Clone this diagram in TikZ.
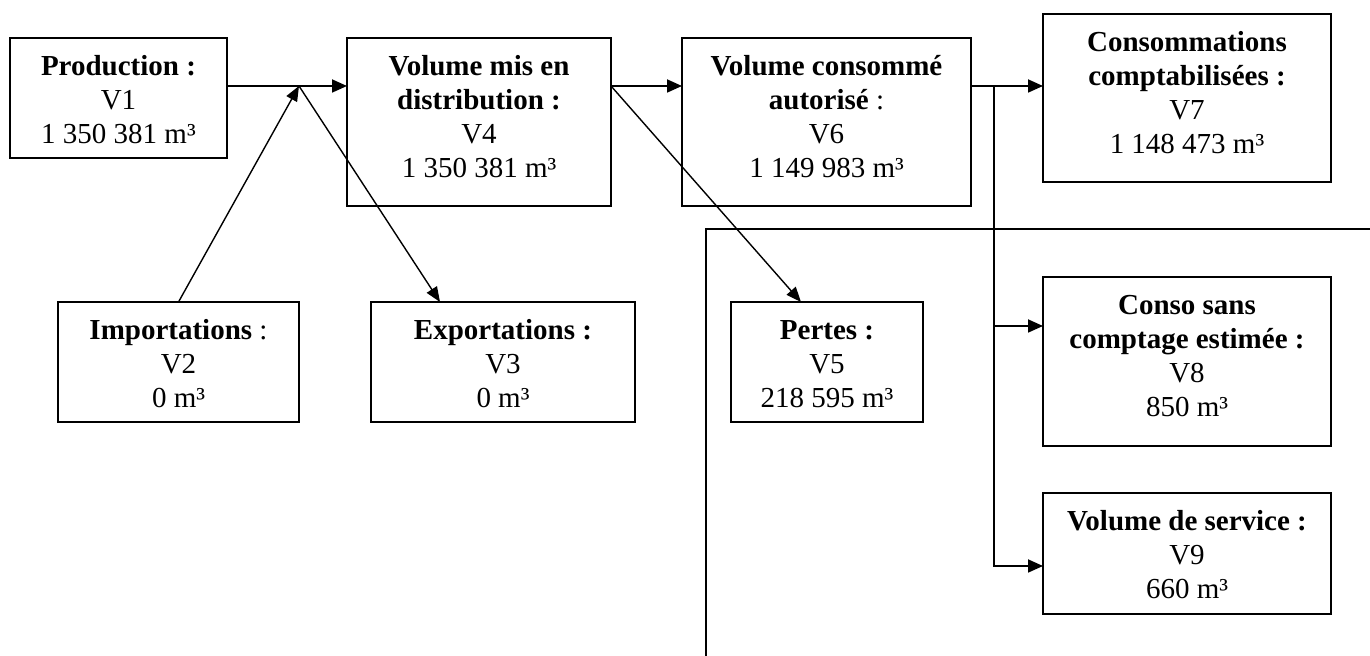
\documentclass[tikz,border=0pt]{standalone}
\usepackage{fontspec}
\setmainfont{Liberation Serif}
\usetikzlibrary{arrows.meta,calc}
\newcommand{\bt}[3]{\begin{minipage}[t][\dimexpr#2pt/2\relax][t]{\dimexpr#1pt/2\relax}\centering\fontsize{14.5}{17}\selectfont\vspace*{7.1pt}\strut#3\end{minipage}}
\tikzset{
  box/.style={draw, line width=0.9pt, inner sep=0pt, outer sep=0pt, anchor=north west},
  arr/.style={line width=0.9pt, -{Triangle[length=7.5pt,width=6.5pt]}},
  darr/.style={line width=0.7pt, -{Triangle[length=7.5pt,width=6pt]}},
  plain/.style={line width=0.9pt}
}
\begin{document}
\begin{tikzpicture}[x=0.5pt,y=-0.5pt]
\useasboundingbox (0,0) rectangle (1370,656);
\node[box] (v1) at (10,38) {\bt{217}{120}{\textbf{Production :}\\V1\\1 350 381 m³}};
\node[box] (v4) at (347,38) {\bt{264}{168}{\textbf{Volume mis en}\\\textbf{distribution :}\\V4\\1 350 381 m³}};
\node[box] (v6) at (682,38) {\bt{289}{168}{\textbf{Volume consommé}\\\textbf{autorisé} :\\V6\\1 149 983 m³}};
\node[box] (v7) at (1043,14) {\bt{288}{168}{\textbf{Consommations}\\\textbf{comptabilisées :}\\V7\\1 148 473 m³}};
\node[box] (v2) at (58,302) {\bt{241}{120}{\textbf{Importations} :\\V2\\0 m³}};
\node[box] (v3) at (371,302) {\bt{264}{120}{\textbf{Exportations :}\\V3\\0 m³}};
\node[box] (v5) at (731,302) {\bt{192}{120}{\textbf{Pertes :}\\V5\\218 595 m³}};
\node[box] (v8) at (1043,277) {\bt{288}{169}{\textbf{Conso sans}\\\textbf{comptage estimée :}\\V8\\850 m³}};
\node[box] (v9) at (1043,493) {\bt{288}{121}{\textbf{Volume de service :}\\V9\\660 m³}};
\coordinate (j) at (299,86);
\coordinate (b) at (994,86);
\coordinate (la) at (706,656);
\coordinate (lb) at (1370,229);
% main flow
\draw[arr] (v1.north east |- j) -- (v4.north west |- j);
\draw[darr] (v2.north) -- (j);
\draw[darr] (j) -- ($(v3.north west)+(69,0)$);
\draw[arr] (v4.north east |- j) -- (v6.north west |- j);
\draw[darr] (v4.north east |- j) -- ($(v5.north west)+(70,0)$);
\draw[arr] (v6.north east |- j) -- (v7.west |- j);
\draw[arr] (b) |- ($(v8.north west)+(0,49)$);
\draw[arr] (b) |- ($(v9.north west)+(0,73)$);
\draw[plain] (la) |- (lb);
\end{tikzpicture}
\end{document}
